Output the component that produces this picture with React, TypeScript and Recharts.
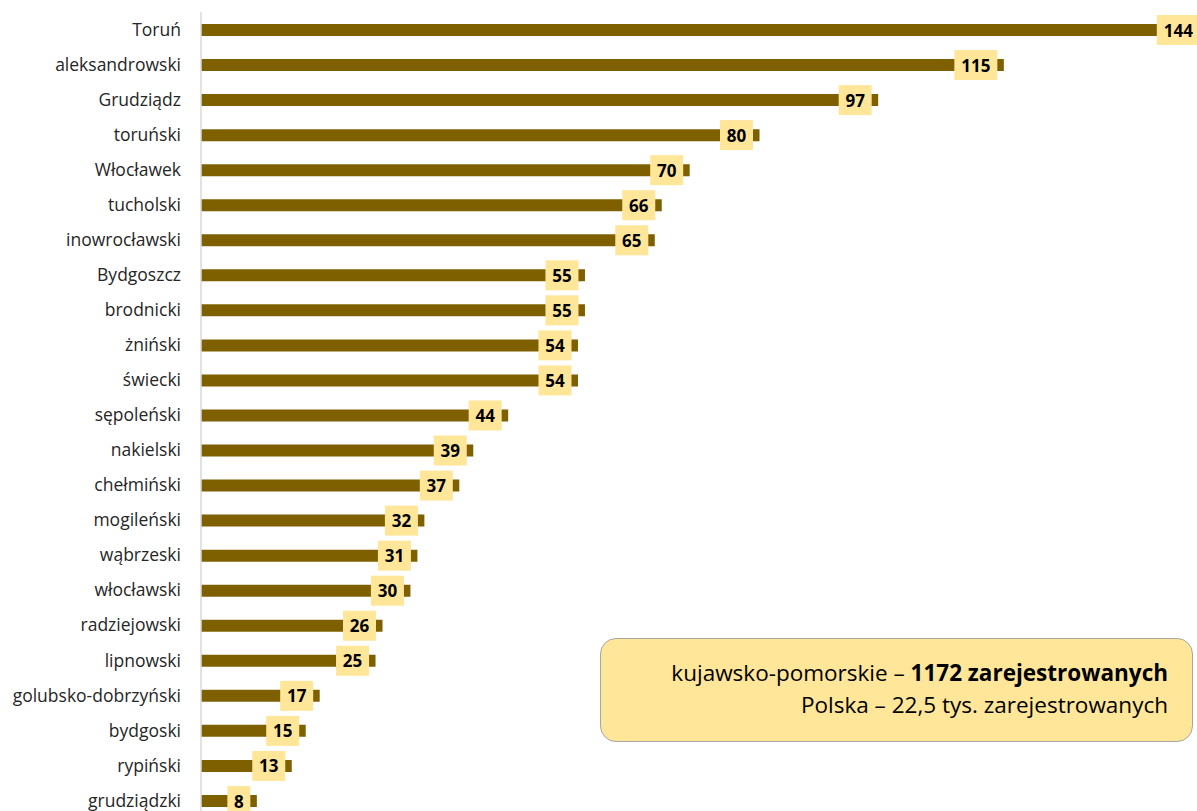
import React from 'react';
import { BarChart, Bar, XAxis, YAxis, LabelList, ReferenceLine } from 'recharts';

const CATEGORIES = [
  'Toruń',
  'aleksandrowski',
  'Grudziądz',
  'toruński',
  'Włocławek',
  'tucholski',
  'inowrocławski',
  'Bydgoszcz',
  'brodnicki',
  'żniński',
  'świecki',
  'sępoleński',
  'nakielski',
  'chełmiński',
  'mogileński',
  'wąbrzeski',
  'włocławski',
  'radziejowski',
  'lipnowski',
  'golubsko-dobrzyński',
  'bydgoski',
  'rypiński',
  'grudziądzki',
];

const VALUES = [144, 115, 97, 80, 70, 66, 65, 55, 55, 54, 54, 44, 39, 37, 32, 31, 30, 26, 25, 17, 15, 13, 8];

const X_DOMAIN = [0, 160];

const FONT = '"Open Sans", "Noto Sans", sans-serif';
const BAR_COLOR = '#7f6000';
const BOX_COLOR = '#ffe699';

const data = CATEGORIES.map((name, i) => ({ name, value: VALUES[i] }));

// yellow value box sitting just inside the bar end
function ValueBox(props: any) {
  const { x, y, width, height, value } = props;
  const digits = String(value).length;
  const w = 13 + digits * 10;
  const h = 30;
  const right = x + width - 6.5;
  const cy = y + height / 2;
  return (
    <g>
      <rect x={right - w} y={cy - h / 2} width={w} height={h} fill={BOX_COLOR} />
      <text
        x={right - w / 2}
        y={cy + 2}
        textAnchor="middle"
        dominantBaseline="middle"
        fontFamily={FONT}
        fontWeight={700}
        fontSize={17}
        fill="#000"
      >
        {value}
      </text>
    </g>
  );
}

export default function App() {
  return (
    <div
      style={{
        position: 'absolute',
        left: 0,
        top: 0,
        width: 1197,
        height: 811,
        overflow: 'hidden',
        background: '#fff',
        fontFamily: FONT,
      }}
    >
      <BarChart
        width={1318}
        height={818}
        data={data}
        layout="vertical"
        margin={{ top: 12, right: 0, bottom: 0, left: 1 }}
        barCategoryGap={0}
      >
        <XAxis type="number" domain={X_DOMAIN} hide />
        <YAxis
          type="category"
          dataKey="name"
          width={200}
          axisLine={false}
          tickLine={false}
          tickSize={0}
          tickMargin={20}
          interval={0}
          tick={{ fontSize: 17.5, fill: '#262626', fontFamily: FONT }}
        />
        <ReferenceLine x={0} stroke="#d9d9d9" strokeWidth={1.5} />
        <Bar dataKey="value" fill={BAR_COLOR} barSize={12} isAnimationActive={false}>
          <LabelList dataKey="value" content={ValueBox} />
        </Bar>
      </BarChart>
      <div
        style={{
          position: 'absolute',
          left: 600,
          top: 638,
          width: 593,
          height: 104,
          boxSizing: 'border-box',
          background: BOX_COLOR,
          border: '1.5px solid #a6a6a6',
          borderRadius: 16,
          textAlign: 'right',
          paddingRight: 24,
          paddingTop: 18,
          fontSize: 22.5,
          lineHeight: '32px',
          color: '#000',
        }}
      >
        <div>
          kujawsko-pomorskie – <b>1172 zarejestrowanych</b>
        </div>
        <div>Polska – 22,5 tys. zarejestrowanych</div>
      </div>
    </div>
  );
}
